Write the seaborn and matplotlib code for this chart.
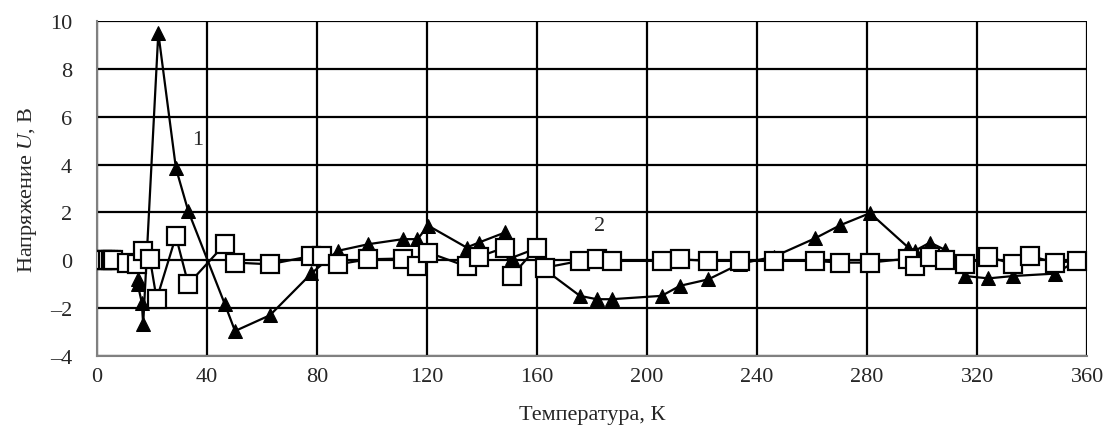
import pandas as pd
import matplotlib.pyplot as plt
import seaborn as sns

# curve 1 (filled triangles)
t1 = [14.8, 14.8, 16.3, 16.8, 22.3, 28.7, 33.2, 46.5, 50.2, 62.9, 78, 87.5, 98.7,
      111.2, 116.5, 120.5, 134.4, 138.9, 148.4, 150.8, 159.9, 162.9, 175.6, 181.7,
      187.2, 205.3, 212, 222.3, 233.8, 246.2, 261, 270.2, 281.1, 295, 297.5, 302.9,
      308.4, 315.6, 324.1, 333.2, 348.4, 356.5]
u1 = [-0.8, -1.0, -1.77, -2.68, 9.5, 3.85, 2.05, -1.84, -2.96, -2.3, -0.55, 0.39, 0.67,
      0.88, 0.88, 1.44, 0.53, 0.74, 1.16, 0.1, 0.5, -0.4, -1.49, -1.63,
      -1.63, -1.49, -1.07, -0.8, -0.15, 0.15, 0.91, 1.46, 1.97, 0.53, 0.4, 0.74,
      0.43, -0.66, -0.76, -0.66, -0.56, 0.0]

# curve 2 (open squares)
t2 = [2, 3, 4, 5, 6, 10.8, 14.4, 16.8, 19.3, 21.7, 28.7, 33.2, 46.5, 50.2, 62.9, 78,
      81.7, 87.8, 98.7, 111.2, 116.5, 120.5, 134.4, 138.9, 148.4, 150.8, 159.9, 162.9,
      175.6, 181.7, 187.2, 205.3, 212, 222.3, 233.8, 246.2, 261, 270.2, 281.1, 295,
      297.5, 302.9, 308.4, 315.6, 324.1, 333.2, 339.3, 348.4, 356.5]
u2 = [0, 0, 0, 0, 0, -0.1, -0.17, 0.39, 0.04, -1.63, 1.0, -1.0, 0.67, -0.1, -0.17, 0.18,
      0.18, -0.17, 0.04, 0.07, -0.26, 0.32, -0.26, 0.15, 0.53, -0.66, 0.53, -0.31,
      -0.03, 0.04, -0.03, -0.03, 0.04, -0.03, -0.03, -0.03, -0.03, -0.1, -0.1, 0.07,
      -0.24, 0.15, 0.0, -0.17, 0.15, -0.17, 0.18, -0.1, -0.03]

x_ticks = list(range(0, 361, 40))
y_ticks = list(range(-4, 11, 2))

df1 = pd.DataFrame({'T': t1, 'U': u1})
df2 = pd.DataFrame({'T': t2, 'U': u2})

sns.set_style("white")
plt.rcParams['font.family'] = ['Liberation Serif', 'DejaVu Serif']
plt.rcParams['font.size'] = 16
plt.rcParams['mathtext.fontset'] = 'custom'
plt.rcParams['mathtext.rm'] = 'Liberation Serif'
plt.rcParams['mathtext.it'] = 'Liberation Serif:italic'

fig = plt.figure(figsize=(11.07, 4.39), dpi=100)
ax = fig.add_axes([0.0876, 0.187, 0.8944, 0.763])

sns.lineplot(data=df1, x='T', y='U', ax=ax, sort=False, estimator=None,
             color='black', linewidth=1.6, marker='^', markersize=10,
             markerfacecolor='black', markeredgecolor='black', zorder=3)
sns.lineplot(data=df2, x='T', y='U', ax=ax, sort=False, estimator=None,
             color='black', linewidth=1.6, marker='s', markersize=12.5,
             markerfacecolor='white', markeredgecolor='black', markeredgewidth=1.6,
             zorder=4)

ax.set_xlim(0, 360)
ax.set_ylim(-4, 10)
ax.set_xticks(x_ticks)
ax.set_yticks(y_ticks)
ax.set_yticklabels([f'{v}'.replace('-', '\u2013') for v in y_ticks])
ax.grid(True, color='black', linewidth=1.6)
ax.set_axisbelow(True)

for side in ['top', 'right']:
    ax.spines[side].set_visible(False)
for side in ['left', 'bottom']:
    ax.spines[side].set_color('#808080')
    ax.spines[side].set_linewidth(1.5)
ax.tick_params(axis='both', direction='out', length=5, width=1.2, color='#808080',
               labelsize=16)
ax.tick_params(axis='x', pad=3)
ax.tick_params(axis='y', pad=13)

ax.text(36.7, 5.06, '1', fontsize=16, ha='center', va='center')
ax.text(182.9, 1.46, '2', fontsize=16, ha='center', va='center')

ax.set_xlabel('Температура, К', fontsize=16, labelpad=14)
ax.set_ylabel('Напряжение $\\mathit{U}$, В', fontsize=16, labelpad=8)

plt.savefig('out.png', dpi=100)
